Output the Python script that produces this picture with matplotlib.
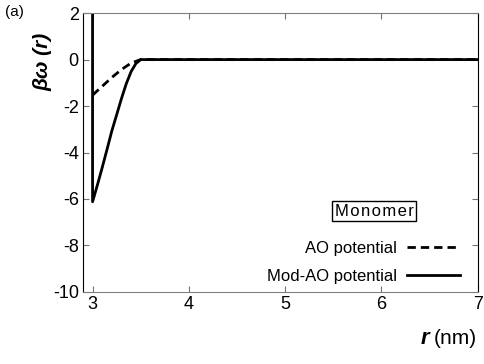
import matplotlib.pyplot as plt

plt.rcParams['font.family'] = ['Liberation Sans', 'DejaVu Sans']
plt.rcParams['axes.unicode_minus'] = False

# hard-core wall at r = 3 nm, then attractive well
r_ao = [3.0, 3.1, 3.2, 3.3, 3.4, 3.5, 7.0]
w_ao = [-1.53, -1.15, -0.77, -0.43, -0.15, 0.0, 0.0]

r_mod = [3.0, 3.0, 3.05, 3.1, 3.15, 3.2, 3.25, 3.3, 3.35, 3.4, 3.45, 3.5, 7.0]
w_mod = [2.5, -6.12, -5.4, -4.65, -3.87, -3.07, -2.38, -1.68, -1.04, -0.52, -0.17, 0.0, 0.0]

xticks = [3, 4, 5, 6, 7]
yticks = [-10, -8, -6, -4, -2, 0, 2]

fig = plt.figure(figsize=(4.85, 3.64), dpi=100)
ax = fig.add_axes([0.171, 0.198, 0.814, 0.766])

ax.plot(r_ao, w_ao, 'k--', lw=2, dashes=(3, 1.8), label='AO potential')
ax.plot(r_mod, w_mod, 'k-', lw=2, label='Mod-AO potential')

ax.set_xlim(2.9, 7.0)
ax.set_ylim(-10, 2)
ax.set_xticks(xticks)
ax.set_yticks(yticks)
ax.tick_params(direction='in', length=4, color='0.45', labelsize=13,
               top=True, right=True, pad=3)
for s in ['left', 'right']:
    ax.spines[s].set_color('black')
for s in ['top', 'bottom']:
    ax.spines[s].set_color('0.5')

ax.set_ylabel('βω (r)', fontsize=15, fontweight='bold', fontstyle='italic')
ax.yaxis.set_label_coords(-0.078, 0.824)
fig.text(0.868, 0.055, 'r', fontsize=16, fontweight='bold', fontstyle='italic')
fig.text(0.895, 0.055, '(nm)', fontsize=15)
fig.text(0.01, 0.955, '(a)', fontsize=11)

ax.text(0.738, 0.29, '\u200a'.join('Monomer'), transform=ax.transAxes,
        ha='center', va='center', fontsize=12,
        bbox=dict(boxstyle='square,pad=0.15', fc='white', ec='black', lw=1))

ax.legend(loc='lower right', bbox_to_anchor=(0.977, 0.0), frameon=False,
          markerfirst=False, fontsize=12, handlelength=3.2, handletextpad=0.6,
          labelspacing=0.75, borderaxespad=0.1)

plt.savefig('out.png', dpi=100)
